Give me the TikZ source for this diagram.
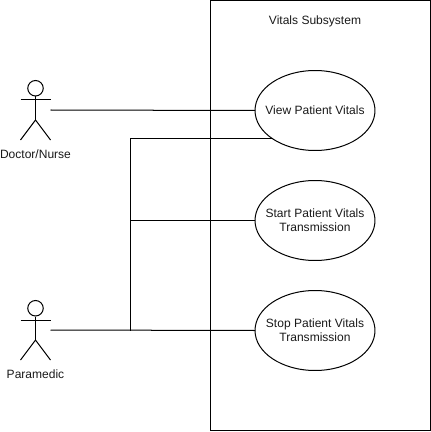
\documentclass[tikz,border=0pt]{standalone}
\usepackage{fontspec}
\setmainfont{Liberation Sans}
\usetikzlibrary{positioning,shapes.geometric}
\tikzset{
  every picture/.style={line width=0.57pt},
  lbl/.style={font=\fontsize{6.85pt}{7.9pt}\selectfont,text=black!90,inner sep=1pt},
  usecase/.style={lbl,draw,ellipse,minimum width=2.4cm,minimum height=1.6cm,inner xsep=-0.3cm,inner ysep=0,outer sep=0,align=center},
  limb/.style={line width=0.57pt},
}
% #1 x of body, #2 y of head top, #3 name, #4 label
\newcommand{\actor}[4]{
  \node[draw,circle,minimum size=0.31cm,inner sep=0,anchor=north] (#3head) at (#1,#2) {};
  \coordinate (#3hip) at (#1,#2+40);
  \draw[limb] (#3head.south) -- (#3hip);
  \draw[limb] (#1-15,#2+20) -- (#1+15,#2+20);
  \draw[limb] (#1-15,#2+60) -- (#3hip) -- (#1+15,#2+60);
  \coordinate (#3) at (#1+15,#2+30);
  \node[lbl] (#3label) at (#1,#2+73.7) {#4};}

\begin{document}
\begin{tikzpicture}[x=0.02cm,y=-0.02cm]
\useasboundingbox (0,0) rectangle (431,432);
% system boundary
\node[draw,minimum width=4.4cm,minimum height=8.6cm,inner sep=0,outer sep=0,anchor=north west] (Sys) at (210.5,0.5) {};
\node[lbl] (SysTitle) at (315,21.2) {Vitals Subsystem};
% actors
\actor{35.5}{80}{Doc}{Doctor/Nurse}
\actor{35.5}{300}{Para}{Paramedic}
% use cases
\node[usecase] (View) at (315,110.5) {View Patient Vitals};
\node[usecase] (Start) at (315,220.5) {Start Patient Vitals\\Transmission};
\node[usecase] (Stop) at (315,330.5) {Stop Patient Vitals\\Transmission};
% associations
\coordinate (Junc) at (130.5,330.5);
\draw (Doc) -- (View.west);
\draw (Para) -- (Stop.west);
\draw (Junc) |- (View.south west);
\draw (Junc |- Start.west) -- (Start.west);
\end{tikzpicture}
\end{document}
